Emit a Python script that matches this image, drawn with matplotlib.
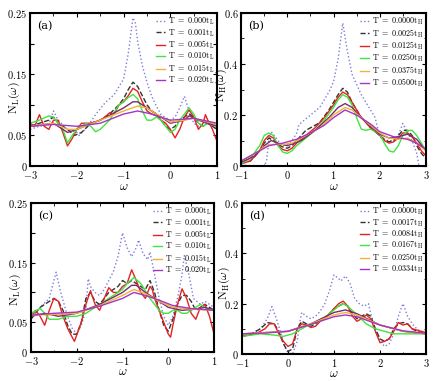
import numpy as np
import matplotlib
matplotlib.use('Agg')
import matplotlib.pyplot as plt
from matplotlib.ticker import MultipleLocator, FixedLocator, FixedFormatter

plt.rcParams['mathtext.fontset'] = 'cm'
plt.rcParams['font.family'] = 'serif'
plt.rcParams['font.serif'] = ['DejaVu Serif']
plt.rcParams['axes.formatter.use_mathtext'] = True

COLORS = ['#7c7cdc', '#333333', '#e32222', '#3ee63e', '#7b2a6c', '#f0b33a', '#a634c4']
STYLES = [':', '--', '-', '-', '-', '-', '-']

# ---------------- panel (a) ----------------
a_blue_x = [-3, -2.8, -2.6, -2.5, -2.4, -2.2, -2.0, -1.95, -1.8, -1.6, -1.4, -1.2, -1.0, -0.9, -0.8, -0.75, -0.7,
            -0.6, -0.5, -0.4, -0.3, -0.2, -0.1, 0, 0.1, 0.2, 0.3, 0.4, 0.5, 0.6, 0.8, 1.0]
a_blue_y = [0.06, 0.065, 0.068, 0.09, 0.075, 0.06, 0.055, 0.05, 0.062, 0.084, 0.103, 0.117, 0.142, 0.184, 0.242,
            0.235, 0.203, 0.164, 0.137, 0.114, 0.098, 0.084, 0.079, 0.075, 0.08, 0.095, 0.114, 0.09, 0.07, 0.065,
            0.07, 0.06]
a_black_x = [-3, -2.8, -2.6, -2.5, -2.4, -2.2, -2.05, -1.9, -1.7, -1.5, -1.3, -1.1, -1.0, -0.9, -0.8, -0.7, -0.6,
             -0.5, -0.4, -0.3, -0.2, -0.1, 0, 0.1, 0.2, 0.3, 0.4, 0.5, 0.6, 0.7, 0.8, 0.9, 1.0]
a_black_y = [0.065, 0.07, 0.075, 0.08, 0.07, 0.06, 0.05, 0.055, 0.07, 0.075, 0.085, 0.1, 0.11, 0.125, 0.137, 0.13,
             0.115, 0.1, 0.09, 0.085, 0.075, 0.065, 0.06, 0.065, 0.075, 0.08, 0.085, 0.08, 0.07, 0.065, 0.07, 0.065,
             0.06]
a_red_x = [-3, -2.9, -2.8, -2.7, -2.6, -2.5, -2.4, -2.3, -2.2, -2.1, -2.0, -1.9, -1.7, -1.5, -1.4, -1.3, -1.2, -1.1,
           -1.0, -0.9, -0.8, -0.7, -0.6, -0.5, -0.4, -0.3, -0.2, -0.1, 0, 0.1, 0.2, 0.3, 0.4, 0.5, 0.6, 0.7, 0.75,
           0.8, 0.9, 0.95, 1.0]
a_red_y = [0.07, 0.065, 0.084, 0.065, 0.06, 0.075, 0.075, 0.055, 0.033, 0.045, 0.06, 0.07, 0.07, 0.075, 0.08, 0.087,
           0.085, 0.1, 0.105, 0.115, 0.127, 0.122, 0.105, 0.09, 0.085, 0.082, 0.075, 0.07, 0.06, 0.046, 0.06, 0.08,
           0.092, 0.08, 0.06, 0.07, 0.084, 0.075, 0.06, 0.05, 0.04]
a_green_x = [-3, -2.8, -2.6, -2.5, -2.3, -2.2, -2.1, -2.0, -1.8, -1.7, -1.6, -1.5, -1.3, -1.1, -1.0, -0.9, -0.8,
             -0.7, -0.6, -0.5, -0.4, -0.3, -0.2, -0.1, 0, 0.1, 0.2, 0.3, 0.4, 0.5, 0.6, 0.7, 0.8, 0.9, 1.0]
a_green_y = [0.07, 0.075, 0.082, 0.08, 0.06, 0.038, 0.05, 0.06, 0.07, 0.065, 0.056, 0.06, 0.075, 0.1, 0.105, 0.112,
             0.117, 0.11, 0.09, 0.075, 0.075, 0.08, 0.075, 0.065, 0.055, 0.06, 0.075, 0.085, 0.095, 0.085, 0.07,
             0.065, 0.07, 0.07, 0.065]
a_dpur_x = [-3, -2.5, -2.2, -2.0, -1.5, -1.0, -0.8, -0.7, -0.5, -0.3, 0, 0.3, 0.4, 0.6, 0.8, 1.0]
a_dpur_y = [0.065, 0.07, 0.055, 0.06, 0.075, 0.095, 0.105, 0.105, 0.095, 0.085, 0.07, 0.075, 0.082, 0.075, 0.07,
            0.065]
a_orange_x = [-3, -2.5, -2.2, -2.0, -1.5, -1.0, -0.7, -0.5, -0.3, 0, 0.3, 0.5, 0.8, 1.0]
a_orange_y = [0.065, 0.07, 0.06, 0.06, 0.075, 0.09, 0.098, 0.095, 0.085, 0.072, 0.075, 0.078, 0.072, 0.068]
a_mag_x = [-3, -2.5, -2.0, -1.5, -1.0, -0.7, -0.4, 0, 0.5, 1.0]
a_mag_y = [0.065, 0.068, 0.065, 0.07, 0.085, 0.09, 0.085, 0.075, 0.078, 0.07]

# ---------------- panel (b) ----------------
b_blue_x = [-1, -0.7, -0.5, -0.45, -0.4, -0.35, -0.2, -0.1, 0, 0.1, 0.2, 0.25, 0.3, 0.5, 0.7, 0.9, 1.0, 1.1, 1.2,
            1.3, 1.4, 1.5, 1.6, 1.7, 1.8, 1.9, 2.0, 2.1, 2.3, 2.4, 2.5, 2.6, 2.7, 2.8, 2.85]
b_blue_y = [0.005, 0.0, 0.0, 0.02, 0.1, 0.135, 0.1, 0.08, 0.085, 0.1, 0.128, 0.16, 0.17, 0.2, 0.23, 0.29, 0.33, 0.42,
            0.56, 0.45, 0.36, 0.32, 0.28, 0.25, 0.22, 0.19, 0.115, 0.1, 0.1, 0.12, 0.167, 0.13, 0.1, 0.05, 0.0]
b_black_x = [-1, -0.8, -0.6, -0.5, -0.4, -0.3, -0.2, -0.1, 0, 0.1, 0.2, 0.3, 0.4, 0.5, 0.7, 0.9, 1.0, 1.1, 1.2,
             1.3, 1.4, 1.5, 1.6, 1.7, 1.8, 2.0, 2.1, 2.2, 2.3, 2.4, 2.5, 2.6, 2.7, 2.8, 2.9, 3.0]
b_black_y = [0.01, 0.02, 0.06, 0.09, 0.11, 0.1, 0.085, 0.075, 0.07, 0.08, 0.1, 0.12, 0.14, 0.15, 0.17, 0.22, 0.25,
             0.28, 0.305, 0.29, 0.25, 0.22, 0.19, 0.175, 0.15, 0.12, 0.105, 0.095, 0.1, 0.12, 0.14, 0.14, 0.12,
             0.08, 0.05, 0.03]
b_red_x = [-1, -0.8, -0.6, -0.5, -0.4, -0.3, -0.2, -0.1, 0, 0.1, 0.2, 0.4, 0.6, 0.8, 1.0, 1.1, 1.2, 1.3, 1.4, 1.5,
           1.6, 1.8, 2.0, 2.1, 2.2, 2.3, 2.4, 2.5, 2.6, 2.7, 2.8, 2.9, 3.0]
b_red_y = [0.01, 0.02, 0.06, 0.1, 0.12, 0.11, 0.08, 0.065, 0.06, 0.07, 0.09, 0.12, 0.15, 0.19, 0.24, 0.27, 0.29,
           0.28, 0.25, 0.22, 0.19, 0.15, 0.12, 0.1, 0.09, 0.095, 0.11, 0.13, 0.13, 0.115, 0.09, 0.06, 0.04]
b_green_x = [-1, -0.8, -0.6, -0.5, -0.4, -0.3, -0.2, -0.1, 0, 0.1, 0.2, 0.4, 0.6, 0.8, 1.0, 1.1, 1.2, 1.3, 1.4,
             1.5, 1.6, 1.7, 1.8, 2.0, 2.1, 2.2, 2.3, 2.4, 2.5, 2.6, 2.7, 2.8, 2.9, 3.0]
b_green_y = [0.01, 0.03, 0.08, 0.12, 0.13, 0.12, 0.08, 0.055, 0.05, 0.06, 0.08, 0.11, 0.14, 0.18, 0.23, 0.26, 0.28,
             0.27, 0.24, 0.19, 0.145, 0.14, 0.145, 0.125, 0.09, 0.06, 0.055, 0.08, 0.12, 0.14, 0.14, 0.12, 0.09,
             0.06]
b_dpur_x = [-1, -0.7, -0.5, -0.35, -0.2, 0, 0.3, 0.6, 0.9, 1.1, 1.25, 1.4, 1.6, 1.8, 2.0, 2.2, 2.4, 2.6, 2.8, 3.0]
b_dpur_y = [0.015, 0.04, 0.08, 0.1, 0.09, 0.08, 0.1, 0.14, 0.19, 0.23, 0.245, 0.23, 0.19, 0.155, 0.125, 0.11, 0.115,
            0.125, 0.105, 0.06]
b_orange_x = [-1, -0.7, -0.5, -0.35, -0.1, 0.1, 0.4, 0.7, 1.0, 1.25, 1.4, 1.6, 1.8, 2.0, 2.2, 2.4, 2.6, 2.8, 3.0]
b_orange_y = [0.02, 0.05, 0.075, 0.085, 0.085, 0.09, 0.12, 0.15, 0.2, 0.23, 0.22, 0.19, 0.16, 0.13, 0.11, 0.105,
              0.11, 0.09, 0.06]
b_mag_x = [-1, -0.7, -0.4, -0.1, 0.2, 0.5, 0.8, 1.0, 1.25, 1.5, 1.8, 2.0, 2.3, 2.6, 2.8, 3.0]
b_mag_y = [0.02, 0.05, 0.08, 0.09, 0.105, 0.13, 0.16, 0.19, 0.22, 0.2, 0.165, 0.135, 0.115, 0.105, 0.09, 0.065]

# ---------------- panel (c) ----------------
c_blue_x = [-3, -2.8, -2.6, -2.5, -2.45, -2.35, -2.2, -2.1, -2.0, -1.9, -1.8, -1.75, -1.7, -1.6, -1.5, -1.4, -1.3,
            -1.2, -1.1, -1.0, -0.9, -0.8, -0.7, -0.65, -0.55, -0.45, -0.4, -0.3, -0.2, -0.1, 0, 0.1, 0.2, 0.3,
            0.35, 0.45, 0.55, 0.7, 0.8, 0.9, 1.0]
c_blue_y = [0.06, 0.075, 0.09, 0.12, 0.134, 0.1, 0.06, 0.04, 0.03, 0.045, 0.07, 0.123, 0.11, 0.1, 0.095, 0.105,
            0.12, 0.135, 0.16, 0.2, 0.175, 0.16, 0.175, 0.188, 0.165, 0.155, 0.168, 0.13, 0.09, 0.06, 0.045, 0.06,
            0.09, 0.13, 0.162, 0.13, 0.09, 0.08, 0.085, 0.08, 0.075]
c_black_x = [-3, -2.8, -2.6, -2.5, -2.4, -2.3, -2.2, -2.1, -2.0, -1.9, -1.8, -1.7, -1.6, -1.5, -1.4, -1.3, -1.2,
             -1.1, -1.0, -0.9, -0.8, -0.7, -0.6, -0.5, -0.4, -0.3, -0.2, -0.1, 0, 0.1, 0.2, 0.3, 0.4, 0.5, 0.6,
             0.7, 0.8, 0.9, 1.0]
c_black_y = [0.055, 0.075, 0.085, 0.09, 0.085, 0.07, 0.045, 0.03, 0.03, 0.05, 0.09, 0.1, 0.085, 0.08, 0.09, 0.1,
             0.105, 0.11, 0.12, 0.115, 0.12, 0.115, 0.11, 0.105, 0.12, 0.1, 0.07, 0.045, 0.035, 0.055, 0.08, 0.095,
             0.095, 0.085, 0.07, 0.075, 0.08, 0.075, 0.07]
c_red_x = [-3, -2.9, -2.8, -2.7, -2.6, -2.5, -2.4, -2.3, -2.2, -2.1, -2.05, -1.9, -1.8, -1.7, -1.6, -1.5, -1.4,
           -1.3, -1.2, -1.1, -1.0, -0.9, -0.8, -0.7, -0.6, -0.5, -0.4, -0.35, -0.3, -0.2, -0.1, 0, 0.05, 0.1, 0.2,
           0.3, 0.4, 0.5, 0.6, 0.7, 0.8, 0.9, 1.0]
c_red_y = [0.06, 0.07, 0.06, 0.045, 0.07, 0.09, 0.085, 0.06, 0.04, 0.025, 0.018, 0.05, 0.08, 0.103, 0.08, 0.07,
           0.09, 0.108, 0.1, 0.1, 0.11, 0.115, 0.138, 0.12, 0.1, 0.09, 0.11, 0.105, 0.09, 0.07, 0.05, 0.03, 0.025,
           0.045, 0.08, 0.106, 0.09, 0.065, 0.055, 0.075, 0.08, 0.06, 0.03]
c_green_x = [-3, -2.8, -2.7, -2.6, -2.4, -2.2, -2.0, -1.8, -1.5, -1.3, -1.1, -1.0, -0.9, -0.75, -0.6, -0.4, -0.2,
             -0.1, 0, 0.1, 0.2, 0.3, 0.4, 0.5, 0.6, 0.7, 0.8, 0.9, 1.0]
c_green_y = [0.065, 0.073, 0.065, 0.055, 0.055, 0.06, 0.06, 0.065, 0.08, 0.09, 0.1, 0.105, 0.115, 0.125, 0.115,
             0.09, 0.07, 0.065, 0.065, 0.07, 0.07, 0.065, 0.065, 0.07, 0.075, 0.08, 0.075, 0.07, 0.07]
c_dpur_x = [-3, -2.7, -2.4, -2.0, -1.5, -1.0, -0.8, -0.7, -0.5, -0.3, 0, 0.3, 0.6, 0.8, 1.0]
c_dpur_y = [0.06, 0.065, 0.06, 0.065, 0.08, 0.1, 0.112, 0.112, 0.1, 0.09, 0.075, 0.07, 0.072, 0.075, 0.07]
c_orange_x = [-3, -2.5, -2.0, -1.5, -1.0, -0.75, -0.5, -0.2, 0.1, 0.5, 1.0]
c_orange_y = [0.062, 0.063, 0.065, 0.078, 0.095, 0.105, 0.098, 0.085, 0.075, 0.072, 0.07]
c_mag_x = [-3, -2.5, -2.0, -1.5, -1.0, -0.75, -0.5, -0.2, 0.1, 0.5, 1.0]
c_mag_y = [0.062, 0.065, 0.067, 0.077, 0.09, 0.1, 0.095, 0.087, 0.078, 0.073, 0.07]

# ---------------- panel (d) ----------------
d_blue_x = [-1, -0.8, -0.6, -0.45, -0.35, -0.25, -0.15, -0.05, 0, 0.1, 0.2, 0.25, 0.3, 0.4, 0.5, 0.6, 0.7, 0.8,
            0.9, 1.0, 1.1, 1.15, 1.25, 1.35, 1.45, 1.55, 1.65, 1.75, 1.8, 1.9, 2.0, 2.1, 2.2, 2.3, 2.4, 2.5, 2.6,
            2.7, 2.8, 2.9, 3.0]
d_blue_y = [0.07, 0.08, 0.1, 0.14, 0.188, 0.14, 0.08, 0.02, 0.005, 0.0, 0.05, 0.12, 0.165, 0.15, 0.14, 0.15, 0.17,
            0.2, 0.25, 0.314, 0.3, 0.29, 0.31, 0.28, 0.22, 0.2, 0.19, 0.2, 0.16, 0.1, 0.05, 0.03, 0.04, 0.08, 0.15,
            0.2, 0.15, 0.12, 0.1, 0.085, 0.08]
d_black_x = [-1, -0.8, -0.6, -0.45, -0.3, -0.2, -0.1, 0, 0.1, 0.2, 0.3, 0.4, 0.5, 0.6, 0.7, 0.8, 0.9, 1.0, 1.1,
             1.2, 1.3, 1.4, 1.5, 1.6, 1.7, 1.8, 1.9, 2.0, 2.1, 2.2, 2.3, 2.4, 2.5, 2.6, 2.7, 2.8, 3.0]
d_black_y = [0.07, 0.08, 0.1, 0.125, 0.12, 0.09, 0.04, 0.01, 0.02, 0.1, 0.13, 0.12, 0.11, 0.12, 0.13, 0.14, 0.16,
             0.18, 0.19, 0.2, 0.19, 0.16, 0.14, 0.15, 0.16, 0.15, 0.1, 0.06, 0.05, 0.06, 0.1, 0.12, 0.125, 0.12,
             0.1, 0.09, 0.08]
d_red_x = [-1, -0.7, -0.6, -0.5, -0.4, -0.3, -0.2, -0.1, 0, 0.1, 0.2, 0.3, 0.4, 0.5, 0.6, 0.7, 0.8, 0.9, 1.0, 1.1,
           1.2, 1.3, 1.4, 1.5, 1.6, 1.7, 1.8, 1.9, 2.0, 2.1, 2.2, 2.3, 2.4, 2.5, 2.6, 2.7, 2.8, 3.0]
d_red_y = [0.07, 0.08, 0.09, 0.1, 0.12, 0.12, 0.08, 0.05, 0.03, 0.04, 0.1, 0.12, 0.115, 0.105, 0.11, 0.13, 0.14,
           0.16, 0.18, 0.2, 0.21, 0.19, 0.15, 0.13, 0.14, 0.155, 0.14, 0.09, 0.045, 0.05, 0.06, 0.09, 0.125, 0.115,
           0.12, 0.1, 0.095, 0.085]
d_green_x = [-1, -0.6, -0.3, -0.1, 0.1, 0.4, 0.7, 0.9, 1.1, 1.2, 1.3, 1.5, 1.7, 1.9, 2.1, 2.3, 2.5, 2.8, 3.0]
d_green_y = [0.07, 0.08, 0.075, 0.07, 0.08, 0.11, 0.13, 0.16, 0.19, 0.2, 0.19, 0.155, 0.12, 0.1, 0.09, 0.08, 0.08,
             0.08, 0.08]
d_dpur_x = [-1, -0.5, 0, 0.5, 1.0, 1.25, 1.5, 2.0, 2.5, 3.0]
d_dpur_y = [0.08, 0.085, 0.09, 0.12, 0.165, 0.175, 0.16, 0.115, 0.09, 0.08]
d_orange_x = [-1, -0.5, 0, 0.5, 1.0, 1.25, 1.5, 2.0, 2.5, 3.0]
d_orange_y = [0.08, 0.085, 0.09, 0.12, 0.155, 0.165, 0.155, 0.115, 0.09, 0.08]
d_mag_x = [-1, -0.5, 0, 0.5, 1.0, 1.25, 1.5, 2.0, 2.5, 3.0]
d_mag_y = [0.08, 0.083, 0.09, 0.118, 0.148, 0.155, 0.148, 0.115, 0.092, 0.082]

labels_a = ['T = 0.000t', 'T = 0.001t', 'T = 0.005t', 'T = 0.010t', 'T = 0.015t', 'T = 0.020t']
labels_b = ['T = 0.0000t', 'T = 0.0025t', 'T = 0.0125t', 'T = 0.0250t', 'T = 0.0375t', 'T = 0.0500t']
labels_d = ['T = 0.0000t', 'T = 0.0017t', 'T = 0.0084t', 'T = 0.0167t', 'T = 0.0250t', 'T = 0.0334t']


def draw(ax, series, labels, sub, tag):
    # legend order: blue, black, red, green, orange, magenta ; dark purple unlabeled
    lab_idx = {0: 0, 1: 1, 2: 2, 3: 3, 5: 4, 6: 5}
    for i, (x, y) in enumerate(series):
        lab = None
        if i in lab_idx:
            lab = r'$\mathrm{' + labels[lab_idx[i]].replace(' ', r'\ ') + '_{' + sub + '}}$'
        ax.plot(x, y, STYLES[i], color=COLORS[i], lw=1.0, label=lab)
    ax.text(0.04, 0.95, tag, transform=ax.transAxes, ha='left', va='top', fontsize=8,
            family='serif', math_fontfamily='cm')
    ax.legend(loc='upper right', fontsize=5.8, frameon=False, handlelength=1.2, labelspacing=0.0,
              borderaxespad=0.15, handletextpad=0.3, borderpad=0.2)
    ax.set_xlabel(r'$\omega$', fontsize=9, labelpad=-1)
    ax.tick_params(direction='in', top=True, right=True, labelsize=7.5, width=0.8, length=3, pad=2)
    ax.tick_params(which='minor', direction='in', top=True, right=True, length=1.8, width=0.6)
    for s in ax.spines.values():
        s.set_linewidth(1.5)


fig = plt.figure(figsize=(4.36, 3.81), dpi=100)
ax_a = fig.add_axes([0.069, 0.564, 0.429, 0.402])
ax_b = fig.add_axes([0.553, 0.564, 0.424, 0.402])
ax_c = fig.add_axes([0.071, 0.076, 0.420, 0.391])
ax_d = fig.add_axes([0.555, 0.071, 0.422, 0.396])

draw(ax_a, [(a_blue_x, a_blue_y), (a_black_x, a_black_y), (a_red_x, a_red_y), (a_green_x, a_green_y),
            (a_dpur_x, a_dpur_y), (a_orange_x, a_orange_y), (a_mag_x, a_mag_y)], labels_a, 'L', '(a)')
draw(ax_b, [(b_blue_x, b_blue_y), (b_black_x, b_black_y), (b_red_x, b_red_y), (b_green_x, b_green_y),
            (b_dpur_x, b_dpur_y), (b_orange_x, b_orange_y), (b_mag_x, b_mag_y)], labels_b, 'H', '(b)')
draw(ax_c, [(c_blue_x, c_blue_y), (c_black_x, c_black_y), (c_red_x, c_red_y), (c_green_x, c_green_y),
            (c_dpur_x, c_dpur_y), (c_orange_x, c_orange_y), (c_mag_x, c_mag_y)], labels_a, 'L', '(c)')
draw(ax_d, [(d_blue_x, d_blue_y), (d_black_x, d_black_y), (d_red_x, d_red_y), (d_green_x, d_green_y),
            (d_dpur_x, d_dpur_y), (d_orange_x, d_orange_y), (d_mag_x, d_mag_y)], labels_d, 'H', '(d)')

for ax in (ax_a, ax_c):
    ax.set_xlim(-3, 1)
    ax.set_ylim(0, 0.25)
    ax.xaxis.set_major_locator(MultipleLocator(1))
    ax.xaxis.set_minor_locator(MultipleLocator(0.5))
    ax.yaxis.set_major_locator(FixedLocator([0, 0.05, 0.1, 0.15, 0.2, 0.25]))
    ax.yaxis.set_major_formatter(FixedFormatter([r'$0$', r'$0.05$', '', r'$0.15$', '', r'$0.25$']))
    ax.set_ylabel(r'$\mathrm{N_L}(\omega)$', fontsize=8.5)

for ax in (ax_b, ax_d):
    ax.set_xlim(-1, 3)
    ax.set_ylim(0, 0.6)
    ax.xaxis.set_major_locator(MultipleLocator(1))
    ax.xaxis.set_minor_locator(MultipleLocator(0.5))
    ax.yaxis.set_major_locator(FixedLocator([0, 0.2, 0.4, 0.6]))
    ax.yaxis.set_major_formatter(FixedFormatter([r'$0$', r'$0.2$', r'$0.4$', r'$0.6$']))
    ax.yaxis.set_minor_locator(MultipleLocator(0.1))
    ax.set_ylabel(r'$\mathrm{N_H}(\omega)$', fontsize=8.5)

# y labels sit right against the spine, in the gap between tick labels
ax_a.yaxis.set_label_coords(-0.045, 0.45)
ax_b.yaxis.set_label_coords(-0.065, 0.53)
ax_c.yaxis.set_label_coords(-0.045, 0.42)
ax_d.yaxis.set_label_coords(-0.055, 0.47)

ax_b.set_xticks([-1, 0, 1, 2, 3])
ax_b.set_xticklabels([r'$-1$', r'$0$', r'$1$', r'$2$', r'$3$'])
ax_d.set_xticks([-1, 0, 1, 2, 3])
ax_d.set_xticklabels([r'$-1$', r'$0$', r'$1$', r'$2$', r'$3$'])
for ax in (ax_a, ax_c):
    ax.set_xticks([-3, -2, -1, 0, 1])
    ax.set_xticklabels([r'$-3$', r'$-2$', r'$-1$', r'$0$', r'$1$'])

fig.savefig('out.png', dpi=100)
